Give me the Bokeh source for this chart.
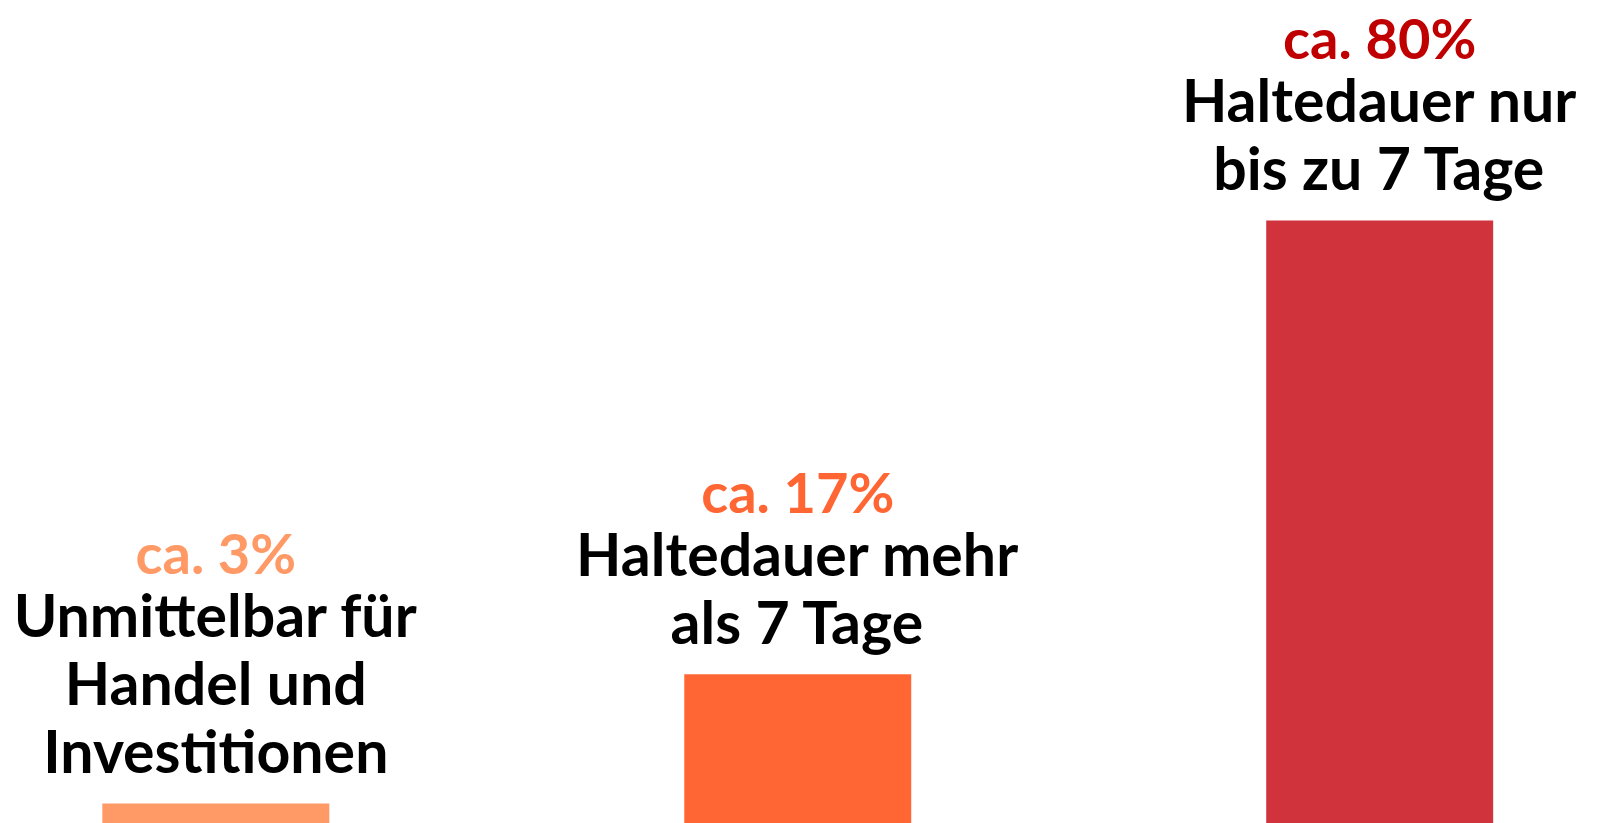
from bokeh.plotting import figure
from bokeh.models import Range1d, Label, ColumnDataSource
from bokeh.embed import file_html
from bokeh.resources import INLINE

# ---- data ----
categories = ["Unmittelbar für Handel und Investitionen",
              "Haltedauer mehr als 7 Tage",
              "Haltedauer nur bis zu 7 Tage"]
label_lines = [["Unmittelbar für", "Handel und", "Investitionen"],
               ["Haltedauer mehr", "als 7 Tage"],
               ["Haltedauer nur", "bis zu 7 Tage"]]
share_labels = ["ca. 3%", "ca. 17%", "ca. 80%"]
bar_heights = [2.65, 19.8, 80.0]   # heights as drawn in the picture (percent units)

# ---- styles ----
bar_colors = ["#FF9966", "#FF6633", "#D0333C"]
pct_colors = ["#FF9966", "#FF6633", "#C00000"]
FONT = "Lato"
FS = "59px"
FS_PCT = "56px"

W, H = 1598, 823
p = figure(width=W, height=H, output_backend="svg", toolbar_location=None,
           x_axis_location=None, y_axis_location=None,
           min_border=0, outline_line_color=None)
p.xgrid.visible = False
p.ygrid.visible = False
p.background_fill_color = "white"
p.border_fill_color = "white"

p.x_range = Range1d(-0.37, 2.376)
p.y_range = Range1d(0, 109.2)

xs = list(range(len(categories)))
src = ColumnDataSource(dict(x=xs, top=bar_heights, color=bar_colors, cat=categories))
p.vbar(x="x", top="top", width=0.39, bottom=0, color="color", source=src,
       line_color=None)

gap = 53
step = 68
pct_step = 62
for i, lines in enumerate(label_lines):
    n = len(lines)
    for j, line in enumerate(lines):
        off = gap + (n - 1 - j) * step
        p.add_layout(Label(x=xs[i], y=bar_heights[i], text=line, y_offset=off,
                           text_align="center", text_baseline="alphabetic",
                           text_font=FONT, text_font_style="bold",
                           text_font_size=FS, text_color="black"))
    off = gap + (n - 1) * step + pct_step
    p.add_layout(Label(x=xs[i], y=bar_heights[i], text=share_labels[i], y_offset=off,
                       text_align="center", text_baseline="alphabetic",
                       text_font=FONT, text_font_style="bold",
                       text_font_size=FS_PCT, text_color=pct_colors[i]))

open("out.html", "w").write(file_html(p, INLINE))
